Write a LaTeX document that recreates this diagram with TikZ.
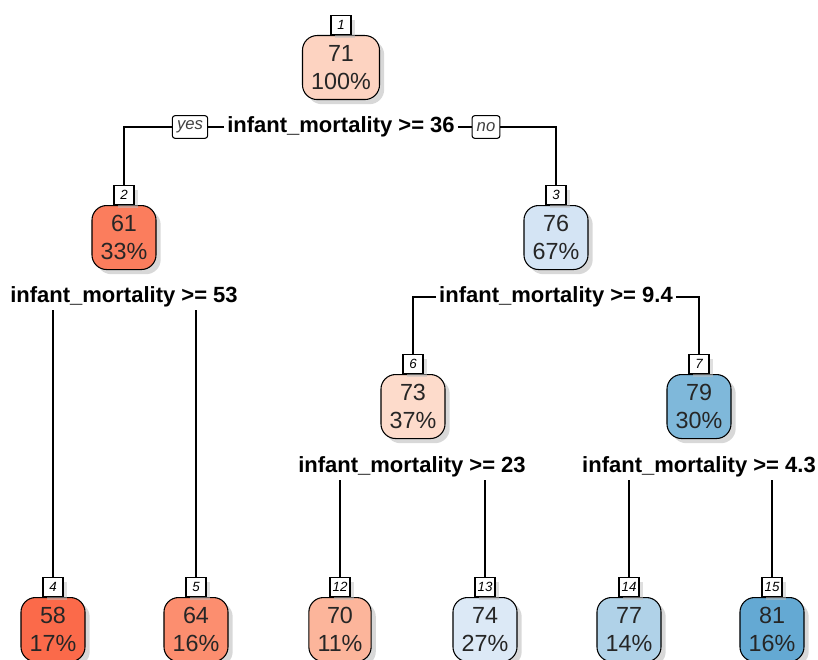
\documentclass[tikz,border=0pt]{standalone}
\usepackage{fontspec}
\setmainfont{Liberation Sans}
\usetikzlibrary{positioning,shadows}

\definecolor{c1}{HTML}{FDD3C1}
\definecolor{c2}{HTML}{FB7D5D}
\definecolor{c3}{HTML}{D4E4F4}
\definecolor{c4}{HTML}{FB6A4A}
\definecolor{c5}{HTML}{FC8E6F}
\definecolor{c6}{HTML}{FDDBCB}
\definecolor{c7}{HTML}{7FB8DA}
\definecolor{c12}{HTML}{FCB59B}
\definecolor{c13}{HTML}{DCE9F6}
\definecolor{c14}{HTML}{B0D2E8}
\definecolor{c15}{HTML}{64A9D3}

\tikzset{
  treenode/.style={draw, rounded corners=11pt, align=center, minimum height=48pt,
    inner xsep=6.5pt, font=\fontsize{17.5}{20.5}\selectfont, text=black!85,
    drop shadow={shadow xshift=3.5pt, shadow yshift=-3.5pt, fill=black!30}},
  numbox/.style={draw, fill=white, minimum width=15pt, minimum height=14pt, inner sep=1.5pt,
    font=\fontsize{10}{11}\selectfont\itshape,
    drop shadow={shadow xshift=3pt, shadow yshift=-3pt, fill=black!25}},
  splitlab/.style={inner sep=2pt, font=\fontsize{16.5}{20}\selectfont\bfseries},
  yesno/.style={draw, fill=white, rounded corners=2pt, inner xsep=3.5pt, minimum height=17pt,
    font=\fontsize{12.5}{14}\selectfont\itshape, text=black!75}
}

\begin{document}
\begin{tikzpicture}[x=0.75pt, y=-0.75pt, line width=0.8pt]
		\useasboundingbox (0,0) rectangle (818,660);

		% nodes
		\node[treenode, fill=c1, anchor=north] (n1) at (341,35) {71\\100\%};
		\node[treenode, fill=c2, anchor=north] (n2) at (124,205) {61\\33\%};
		\node[treenode, fill=c3, anchor=north] (n3) at (556,205) {76\\67\%};
		\node[treenode, fill=c6, anchor=north] (n6) at (413,374) {73\\37\%};
		\node[treenode, fill=c7, anchor=north] (n7) at (699,374) {79\\30\%};
		\node[treenode, fill=c4, anchor=north] (n4) at (53,597) {58\\17\%};
		\node[treenode, fill=c5, anchor=north] (n5) at (196,597) {64\\16\%};
		\node[treenode, fill=c12, anchor=north] (n12) at (340,597) {70\\11\%};
		\node[treenode, fill=c13, anchor=north] (n13) at (485,597) {74\\27\%};
		\node[treenode, fill=c14, anchor=north] (n14) at (629,597) {77\\14\%};
		\node[treenode, fill=c15, anchor=north] (n15) at (772,597) {81\\16\%};

		% node numbers
		\foreach \X in {1,2,3,4,5,6,7,12,13,14,15}{
			\node[numbox, above=0pt of n\X] (l\X) {\X};
		}

		% splits
		\node[splitlab] (s1) at (341,127) {infant\_mortality >= 36};
		\node[splitlab] (s2) at (124,297) {infant\_mortality >= 53};
		\node[splitlab] (s3) at (556,297) {infant\_mortality >= 9.4};
		\node[splitlab] (s6) at (412,467) {infant\_mortality >= 23};
		\node[splitlab] (s7) at (699,467) {infant\_mortality >= 4.3};
		\node[yesno] (yes) at (190,127) {yes};
		\node[yesno] (no) at (486,127) {no};

		% connectors
		\draw (yes.west) -| (l2.north);
		\draw (yes.east) -- (s1.west);
		\draw (s1.east) -- (no.west);
		\draw (no.east) -| (l3.north);
		\draw (l4 |- s2.south) -- (l4.north);
		\draw (l5 |- s2.south) -- (l5.north);
		\draw (s3.west) -| (l6.north);
		\draw (s3.east) -| (l7.north);
		\draw (l12 |- s6.south) -- (l12.north);
		\draw (l13 |- s6.south) -- (l13.north);
		\draw (l14 |- s7.south) -- (l14.north);
		\draw (l15 |- s7.south) -- (l15.north);
		\end{tikzpicture}
\end{document}
